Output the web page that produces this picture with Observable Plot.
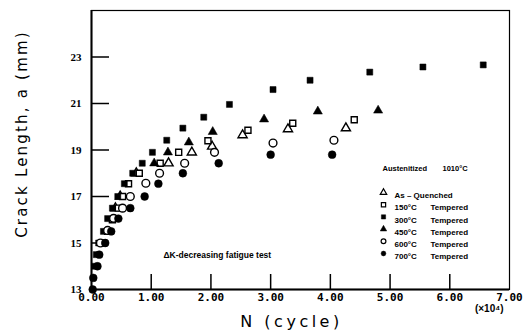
<!DOCTYPE html>
<html>
<head>
<meta charset="utf-8">
<script src="https://cdn.jsdelivr.net/npm/d3@7"></script>
<script src="https://cdn.jsdelivr.net/npm/@observablehq/plot@0.6"></script>
<style>
  html, body { margin: 0; padding: 0; background: #fff; }
  text[aria-label="ylabel"] { letter-spacing: 2.2px; }
  text[aria-label="xlabel"] { letter-spacing: 3.5px; }
</style>
</head>
<body>
<div id="chart"></div>
<script>
// ---- Data (N in 10^4 cycles, a in mm) ----
const N_AQ  = [0.40, 0.48, 0.75, 1.29, 1.68, 2.02, 2.53, 3.29, 4.26];
const A_AQ  = [16.5, 17.0, 18.0, 18.43, 18.9, 19.15, 19.64, 19.9, 19.94];

const N_150 = [0.20, 0.27, 0.35, 0.45, 0.52, 0.62, 0.80, 1.15, 1.46, 1.95, 2.62, 3.37, 4.40];
const A_150 = [15.0, 15.5, 16.0, 16.5, 17.0, 17.55, 18.0, 18.43, 18.9, 19.4, 19.85, 20.15, 20.3];

const N_300 = [0.05, 0.08, 0.12, 0.20, 0.27, 0.35, 0.44, 0.55, 0.69, 0.85, 1.02, 1.26, 1.53, 1.88, 2.31, 3.04, 3.66, 4.66, 5.55, 6.56];
const A_300 = [14.0, 14.5, 15.0, 15.5, 16.05, 16.5, 17.0, 17.55, 18.0, 18.43, 18.9, 19.42, 19.94, 20.41, 20.96, 21.6, 22.0, 22.35, 22.57, 22.66];

const N_450 = [1.05, 1.28, 1.63, 2.03, 2.89, 3.79, 4.80];
const A_450 = [18.43, 18.9, 19.33, 19.78, 20.32, 20.66, 20.7];

const N_600 = [0.15, 0.27, 0.37, 0.52, 0.65, 0.91, 1.14, 1.56, 2.06, 3.04, 4.06];
const A_600 = [15.0, 15.54, 16.06, 16.5, 17.0, 17.57, 18.0, 18.43, 18.9, 19.3, 19.42];

const N_700 = [0.02, 0.03, 0.10, 0.13, 0.23, 0.33, 0.45, 0.65, 0.89, 1.12, 1.53, 2.13, 3.00, 4.03];
const A_700 = [13.0, 13.5, 14.0, 14.5, 15.0, 15.5, 16.05, 16.5, 17.0, 17.55, 18.0, 18.43, 18.8, 18.8];

const X_TICKS = [0, 1, 2, 3, 4, 5, 6, 7];
const X_INNER_TICKS = [1, 2, 3, 4, 5, 6];
const Y_TICKS = [13, 15, 17, 19, 21, 23];
const Y_INNER_TICKS = [15, 17, 19, 21, 23];

const SERIES_LABELS = ["As \u2013 Quenched", "150\u00b0C", "300\u00b0C", "450\u00b0C", "600\u00b0C", "700\u00b0C"];

// ---- Build series ----
const series = [
  {name: SERIES_LABELS[0], N: N_AQ,  a: A_AQ,  symbol: "triangle", filled: false},
  {name: SERIES_LABELS[1], N: N_150, a: A_150, symbol: "square",   filled: false},
  {name: SERIES_LABELS[2], N: N_300, a: A_300, symbol: "square",   filled: true},
  {name: SERIES_LABELS[3], N: N_450, a: A_450, symbol: "triangle", filled: true},
  {name: SERIES_LABELS[4], N: N_600, a: A_600, symbol: "circle",   filled: false},
  {name: SERIES_LABELS[5], N: N_700, a: A_700, symbol: "circle",   filled: true}
];

function dotMark(s) {
  const rows = s.N.map((n, i) => ({N: n, a: s.a[i]}));
  return Plot.dot(rows, {
    x: "N", y: "a",
    symbol: s.symbol,
    r: s.symbol === "circle" ? 3.9 : 3.4,
    fill: s.filled ? "black" : "white",
    stroke: "black",
    strokeWidth: s.filled ? 0.5 : 1.4
  });
}

function legendRow(s, i) {
  const dy = 182 + 12.2 * i;
  const marks = [
    Plot.dot([s], {frameAnchor: "top-left", dx: 292, dy, symbol: s.symbol, r: 2.4,
      fill: s.filled ? "black" : "white", stroke: "black", strokeWidth: s.filled ? 0.5 : 1.2}),
    Plot.text([s.name], {frameAnchor: "top-left", dx: 303, dy, text: d => d, textAnchor: "start",
      fontSize: 8, fontWeight: "bold", fontFamily: "Liberation Sans", fill: "black"})
  ];
  if (i > 0) marks.push(Plot.text(["Tempered"], {frameAnchor: "top-left", dx: 339, dy, text: d => d,
      textAnchor: "start", fontSize: 8, fontWeight: "bold", fontFamily: "Liberation Sans", fill: "black"}));
  return marks;
}

const chart = Plot.plot({
  width: 527,
  height: 336,
  marginLeft: 91,
  marginRight: 18,
  marginTop: 10,
  marginBottom: 47,
  x: {domain: [0, 7]},
  y: {domain: [13, 25]},
  style: {background: "white", color: "black", fontFamily: "Liberation Sans"},
  marks: [
    Plot.frame({stroke: "black", strokeWidth: 1.2}),
    Plot.axisX({ticks: X_TICKS, tickSize: 0, tickPadding: 4, tickFormat: d => d.toFixed(2),
      fontSize: 11, fontWeight: "bold", fontFamily: "DejaVu Sans Mono", label: null}),
    Plot.axisY({ticks: Y_TICKS, tickSize: 0, tickPadding: 10, tickFormat: d => String(d),
      fontSize: 11, fontWeight: "bold", fontFamily: "Liberation Sans Narrow", label: null}),
    Plot.tickX(X_INNER_TICKS, {x: d => d, insetTop: 264, stroke: "black", strokeWidth: 1.5}),
    Plot.tickY(Y_INNER_TICKS, {y: d => d, insetRight: 400, stroke: "black", strokeWidth: 1.5}),
    Plot.ruleX([0], {stroke: "black", strokeWidth: 2}),
    Plot.ruleY([13], {stroke: "black", strokeWidth: 2}),
    ...series.map(s => dotMark(s)),
    Plot.text(["Austenitized"], {frameAnchor: "top-left", dx: 291, dy: 155, text: d => d, textAnchor: "start",
      fontSize: 7.5, fontWeight: "bold", fill: "black"}),
    Plot.text(["1010\u00b0C"], {frameAnchor: "top-left", dx: 351, dy: 155, text: d => d, textAnchor: "start",
      fontSize: 7.5, fontWeight: "bold", fill: "black"}),
    ...series.flatMap((s, i) => legendRow(s, i)),
    Plot.text(["\u0394K-decreasing fatigue test"], {frameAnchor: "top-left", dx: 72, dy: 241, text: d => d,
      textAnchor: "start", fontSize: 8.5, fontWeight: "bold", fill: "black"}),
    Plot.text(["N (cycle)"], {frameAnchor: "bottom", dx: -9, dy: 37, text: d => d, fontSize: 16,
      fontFamily: "DejaVu Sans", fill: "black", ariaLabel: () => "xlabel"}),
    Plot.text(["(\u00d710\u2074)"], {frameAnchor: "bottom-right", dx: -6, dy: 22, text: d => d, fontSize: 10,
      textAnchor: "end", fontWeight: "bold", fill: "black"}),
    Plot.text(["Crack Length, a (mm)"], {frameAnchor: "left", dx: -69, dy: -16, rotate: -90, text: d => d,
      textAnchor: "middle", fontSize: 15, fontFamily: "DejaVu Sans", fill: "black", ariaLabel: () => "ylabel"})
  ]
});

document.getElementById("chart").appendChild(chart);
</script>
</body>
</html>
